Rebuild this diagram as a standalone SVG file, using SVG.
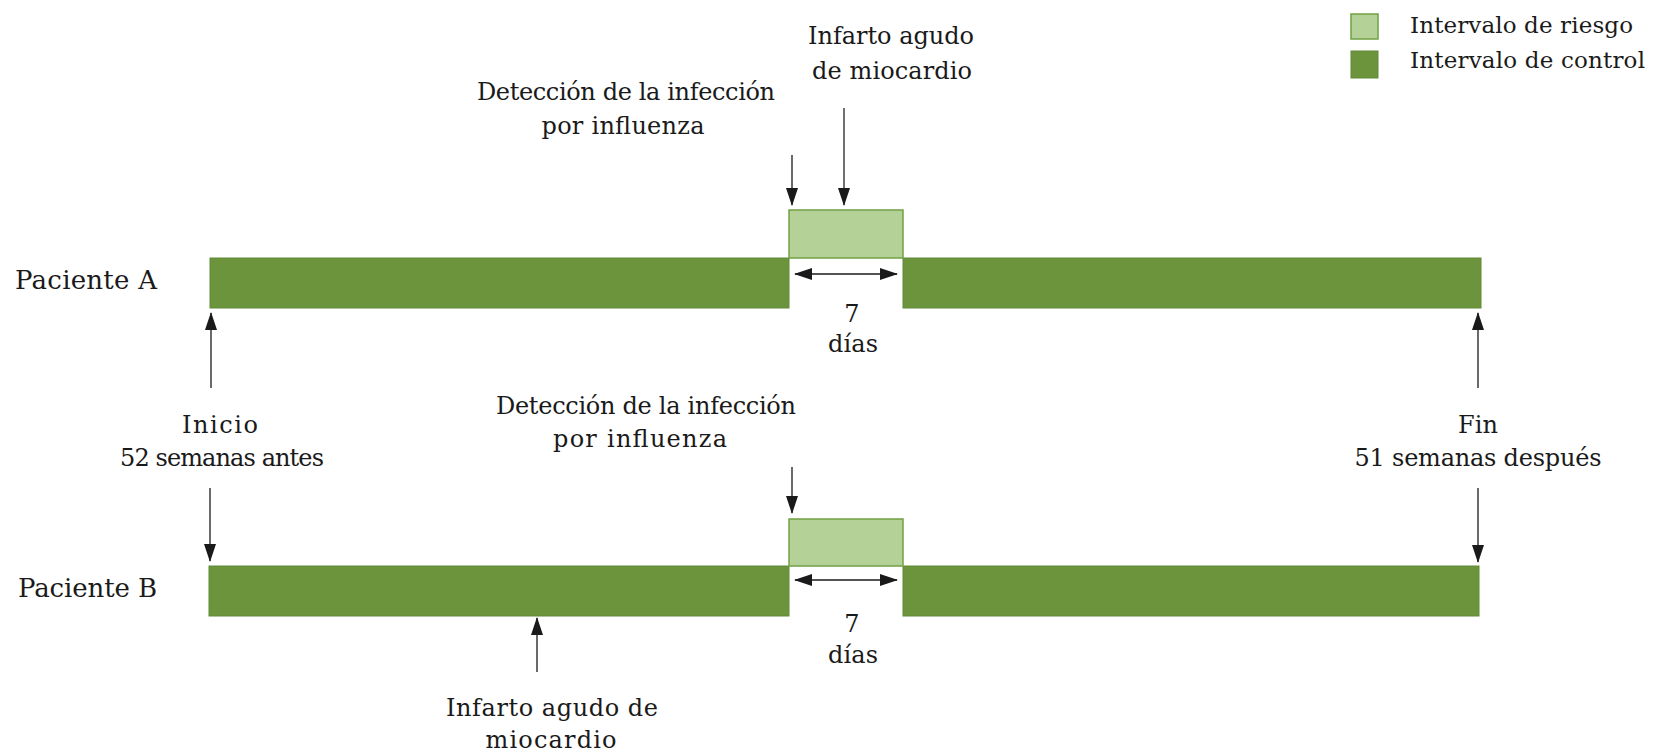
<svg xmlns="http://www.w3.org/2000/svg" width="1654" height="753" viewBox="0 0 1654 753">
<style>
  text { font-family: "DejaVu Serif", "Liberation Serif", serif; font-size: 24px; fill: #1a1a1a; }
  .mid { text-anchor: middle; }
  .big { font-size: 26px; }
  .leg { font-size: 23px; }
  .ctrl { fill: #6b943d; stroke: #618a36; stroke-width: 1; }
  .risk { fill: #b4d197; stroke: #72a043; stroke-width: 1.5; }
  .arr { stroke: #1a1a1a; stroke-width: 1.3; fill: none; }
  .arrg { stroke: #707070; stroke-width: 2; fill: none; }
</style>
<defs>
  <marker id="ah" markerUnits="userSpaceOnUse" markerWidth="18" markerHeight="12" refX="17" refY="6" orient="auto-start-reverse">
    <path d="M0,0 L18,6 L0,12 Z" fill="#1a1a1a"/>
  </marker>
</defs>
<rect width="1654" height="753" fill="#ffffff"/>

<g id="legend">
  <rect x="1351" y="14" width="27" height="25" class="risk"/>
  <rect x="1351" y="51" width="27" height="27" class="ctrl"/>
  <text class="leg" x="1410" y="33" textLength="223">Intervalo de riesgo</text>
  <text class="leg" x="1410" y="68" textLength="235">Intervalo de control</text>
</g>

<g id="patient-a">
  <text class="big" x="15" y="289" textLength="142">Paciente A</text>
  <rect x="210" y="258" width="579" height="50" class="ctrl"/>
  <rect x="903" y="258" width="578" height="50" class="ctrl"/>
  <rect x="789" y="210" width="114" height="48" class="risk"/>
  <text class="mid" x="852" y="322">7</text>
  <text class="mid" x="853" y="352" textLength="50">días</text>
</g>

<g id="patient-b">
  <text class="big" x="18" y="597" textLength="139">Paciente B</text>
  <rect x="209" y="566" width="580" height="50" class="ctrl"/>
  <rect x="903" y="566" width="576" height="50" class="ctrl"/>
  <rect x="789" y="519" width="114" height="47" class="risk"/>
  <text class="mid" x="852" y="632">7</text>
  <text class="mid" x="853" y="663" textLength="50">días</text>
</g>

<g id="label-infarto-a">
  <text class="mid" x="891" y="44" textLength="166">Infarto agudo</text>
  <text class="mid" x="892" y="79" textLength="160">de miocardio</text>
</g>
<g id="label-deteccion-a">
  <text class="mid" x="626" y="100" textLength="298">Detección de la infección</text>
  <text class="mid" x="623" y="134" textLength="163">por influenza</text>
</g>
<g id="label-inicio">
  <text class="mid" x="220" y="433" textLength="76">Inicio</text>
  <text class="mid" x="222" y="466" textLength="204">52 semanas antes</text>
</g>
<g id="label-fin">
  <text class="mid" x="1478" y="433" textLength="40">Fin</text>
  <text class="mid" x="1478" y="466" textLength="247">51 semanas después</text>
</g>
<g id="label-deteccion-b">
  <text class="mid" x="646" y="414" textLength="300">Detección de la infección</text>
  <text class="mid" x="640" y="447" textLength="174">por influenza</text>
</g>
<g id="label-infarto-b">
  <text class="mid" x="552" y="716" textLength="212">Infarto agudo de</text>
  <text class="mid" x="551" y="748" textLength="131">miocardio</text>
</g>

<g id="connectors">
  <line class="arr" x1="792" y1="155" x2="792" y2="205" marker-end="url(#ah)"/>
  <line class="arrg" x1="844" y1="108" x2="844" y2="205" marker-end="url(#ah)"/>
  <line class="arr" x1="795" y1="274" x2="897" y2="274" marker-start="url(#ah)" marker-end="url(#ah)"/>
  <line class="arr" x1="211" y1="388" x2="211" y2="313" marker-end="url(#ah)"/>
  <line class="arr" x1="1478" y1="388" x2="1478" y2="313" marker-end="url(#ah)"/>
  <line class="arr" x1="210" y1="488" x2="210" y2="561" marker-end="url(#ah)"/>
  <line class="arr" x1="1478" y1="488" x2="1478" y2="562" marker-end="url(#ah)"/>
  <line class="arr" x1="792" y1="467" x2="792" y2="513" marker-end="url(#ah)"/>
  <line class="arr" x1="795" y1="580" x2="897" y2="580" marker-start="url(#ah)" marker-end="url(#ah)"/>
  <line class="arr" x1="537" y1="672" x2="537" y2="618" marker-end="url(#ah)"/>
</g>
</svg>
